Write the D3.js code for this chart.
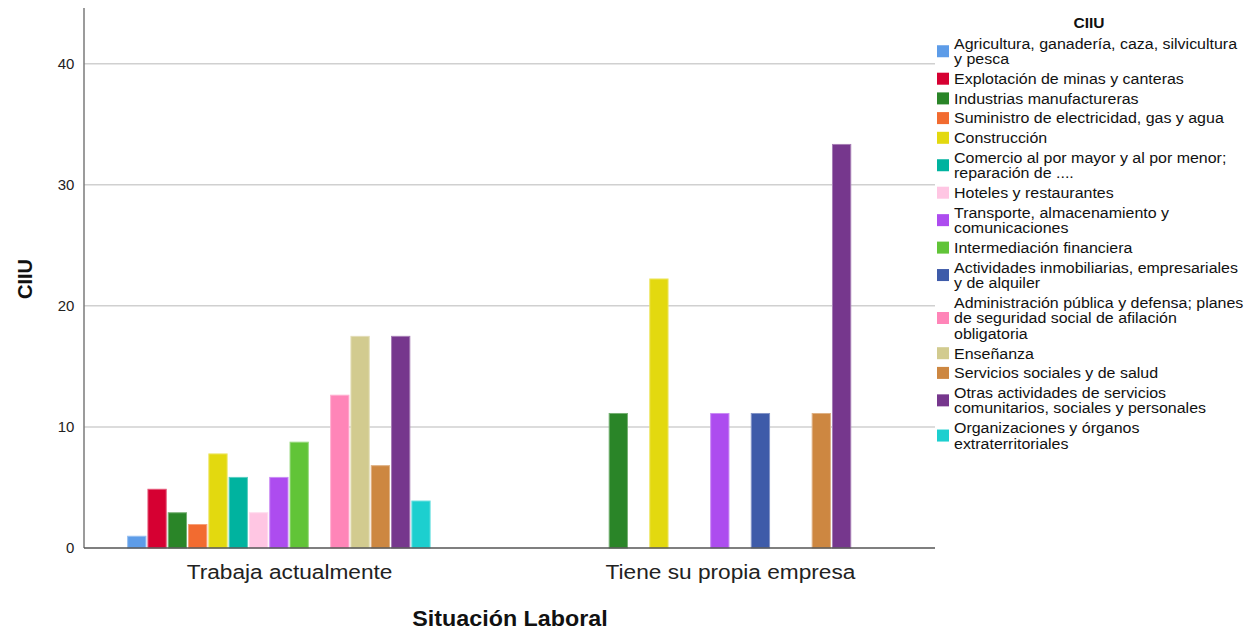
<!DOCTYPE html>
<html><head><meta charset="utf-8">
<script src="https://cdn.jsdelivr.net/npm/d3@7"></script>
<style>body{margin:0;background:#fff;}svg{display:block;font-family:"Liberation Sans",Arial,sans-serif;}</style>
</head><body><svg id="c" width="1255" height="633"></svg>
<script>
const groups = ["Trabaja actualmente", "Tiene su propia empresa"];
const categories = [
  "Agricultura, ganadería, caza, silvicultura y pesca",
  "Explotación de minas y canteras",
  "Industrias manufactureras",
  "Suministro de electricidad, gas y agua",
  "Construcción",
  "Comercio al por mayor y al por menor; reparación de ....",
  "Hoteles y restaurantes",
  "Transporte, almacenamiento y comunicaciones",
  "Intermediación financiera",
  "Actividades inmobiliarias, empresariales y de alquiler",
  "Administración pública y defensa; planes de seguridad social de afilación obligatoria",
  "Enseñanza",
  "Servicios sociales y de salud",
  "Otras actividades de servicios comunitarios, sociales y personales",
  "Organizaciones y órganos extraterritoriales"
];
const legendLines = [
  ["Agricultura, ganadería, caza, silvicultura", "y pesca"],
  ["Explotación de minas y canteras"],
  ["Industrias manufactureras"],
  ["Suministro de electricidad, gas y agua"],
  ["Construcción"],
  ["Comercio al por mayor y al por menor;", "reparación de ...."],
  ["Hoteles y restaurantes"],
  ["Transporte, almacenamiento y", "comunicaciones"],
  ["Intermediación financiera"],
  ["Actividades inmobiliarias, empresariales", "y de alquiler"],
  ["Administración pública y defensa; planes", "de seguridad social de afilación", "obligatoria"],
  ["Enseñanza"],
  ["Servicios sociales y de salud"],
  ["Otras actividades de servicios", "comunitarios, sociales y personales"],
  ["Organizaciones y órganos", "extraterritoriales"]
];
const colors = ["#5d9ce8","#d60032","#2a8528","#f26b30","#e3d90f","#00b39f","#ffc6e3","#ad4cef","#61c438","#3e5ba9","#ff85b8","#d2cb8f","#cd8741","#76378d","#1ccfcf"];
// values per group (percent), null = no bar
const trabajaValues = [0.97, 4.85, 2.91, 1.94, 7.77, 5.83, 2.91, 5.83, 8.74, null, 12.62, 17.48, 6.80, 17.48, 3.88];
const empresaValues = [null, null, 11.11, null, 22.22, null, null, 11.11, null, 11.11, null, null, 11.11, 33.33, null];
const yTicks = [0, 10, 20, 30, 40];

const svg = d3.select("#c");
const pL = 84, pR = 935, pT = 8, pB = 548;

const y = d3.scaleLinear().domain([0, 44.6]).range([pB, pT]);
const x0 = d3.scalePoint().domain(groups).range([pL, pR]).padding(0.465);
const x1 = d3.scaleBand().domain(categories).range([-162.4, 142.1]).paddingInner(0.1).paddingOuter(0.05);

// gridlines
svg.append("g").selectAll("line").data(yTicks.filter(d => d > 0)).join("line")
  .attr("x1", pL).attr("x2", pR).attr("y1", d => y(d)).attr("y2", d => y(d))
  .attr("stroke", "#d0d0d0").attr("stroke-width", 1.5);

// y axis
const yAxis = svg.append("g").attr("transform", `translate(${pL},0)`)
  .call(d3.axisLeft(y).tickValues(yTicks).tickSize(0).tickPadding(9));
yAxis.select(".domain").attr("stroke", "#7a7a7a").attr("stroke-width", 1.5).attr("d", `M0,${pT}V${pB}`);
yAxis.selectAll("text").attr("font-size", 14).attr("fill", "#222")
  .attr("font-family", "Liberation Sans, Arial, sans-serif").attr("transform", "scale(1.07,1)");

// bars
const seriesByGroup = [trabajaValues, empresaValues];
groups.forEach((g, gi) => {
  const data = categories.map((c, i) => ({c, i, v: seriesByGroup[gi][i]})).filter(d => d.v != null);
  svg.append("g").attr("transform", `translate(${x0(g)},0)`)
    .selectAll("rect").data(data).join("rect")
    .attr("x", d => x1(d.c)).attr("width", x1.bandwidth())
    .attr("y", d => y(d.v)).attr("height", d => y(0) - y(d.v))
    .attr("fill", d => colors[d.i])
    .attr("stroke", d => d3.interpolateRgb(colors[d.i], "#fff")(0.35)).attr("stroke-width", 1);
});

// x axis
const xAxis = svg.append("g").attr("transform", `translate(0,${pB})`)
  .call(d3.axisBottom(x0).tickSize(0).tickPadding(16));
xAxis.select(".domain").attr("stroke", "#555").attr("stroke-width", 1.5).attr("d", `M${pL},0H${pR}`);
xAxis.selectAll("text").attr("font-size", 21).attr("fill", "#222")
  .attr("font-family", "Liberation Sans, Arial, sans-serif").attr("transform", "scale(1.08,1)");

// axis titles
svg.append("text").attr("transform", "translate(510,626) scale(1.06,1)").attr("text-anchor", "middle")
  .attr("font-size", 22).attr("font-weight", "bold").attr("fill", "#111").text("Situación Laboral");
svg.append("text").attr("transform", "translate(32,279) rotate(-90)").attr("text-anchor", "middle")
  .attr("font-size", 20).attr("font-weight", "bold").attr("fill", "#111").text("CIIU");

// legend
const lg = svg.append("g");
lg.append("text").attr("transform", "translate(1089,28)").attr("text-anchor", "middle")
  .attr("font-size", 15.5).attr("font-weight", "bold").attr("fill", "#111").text("CIIU");
const ls = 15.5, gap = 19.7;
let cy = 43.5;
legendLines.forEach((lines, i) => {
  const n = lines.length;
  const mid = cy + (n - 1) * ls / 2;
  lg.append("rect").attr("x", 937).attr("y", mid - 6).attr("width", 12).attr("height", 12).attr("fill", colors[i]);
  lines.forEach((t, k) => {
    lg.append("text").attr("transform", `translate(954,${cy + k * ls + 5.3}) scale(1.065,1)`)
      .attr("font-size", 15).attr("fill", "#111").text(t);
  });
  cy += (n - 1) * ls + gap;
});
</script></body></html>
